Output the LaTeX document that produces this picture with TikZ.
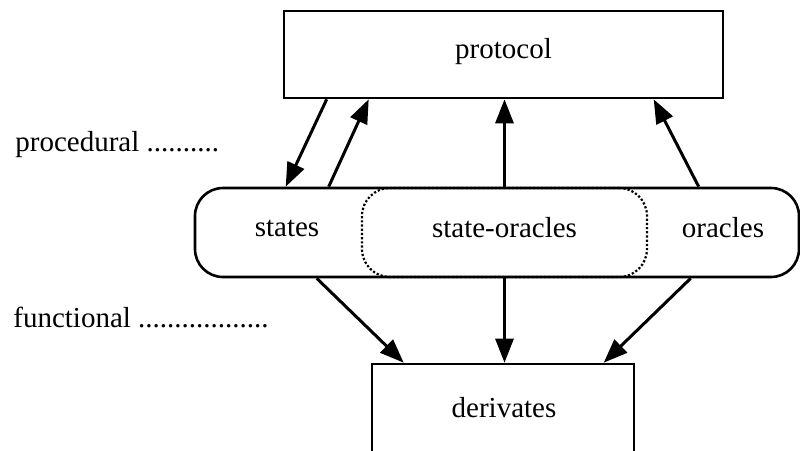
\documentclass[tikz,border=0pt]{standalone}
\usepackage{fontspec}
\setmainfont{Liberation Serif}
\usepackage{tikz}
\usetikzlibrary{arrows.meta, positioning, calc}
\tikzset{
  >={Triangle[length=12pt,width=9pt]},  % punte piene
  % riquadri
  box/.style={draw,line width=1.3pt,rectangle,inner sep=0pt},
  band/.style={box,rounded corners=14pt},
  overlap/.style={draw,densely dotted,line width=1.1pt,rounded corners=14pt,inner sep=0pt},
  word/.style={inner sep=0pt},
  % connessioni
  link/.style={->,line width=1.5pt}
}

\begin{document}
\begin{tikzpicture}[x=0.5pt,y=-0.5pt,font=\fontsize{14.5}{17}\selectfont]
    \useasboundingbox (0,0) rectangle (800,451);
    \clip (0,0) rectangle (800,451);
    % livelli
    \node[box,minimum width=219.5pt,minimum height=43.5pt] (protocol) at (503.5,54.5) {};
    \node[word] (prottext) at (503.5,52) {protocol};
    \node[overlap,minimum width=142.5pt,minimum height=44.5pt] (so) at (504.5,232.5) {};
    \node[band,minimum width=302pt,minimum height=44.5pt] (band) at (497,232.5) {};
    \node[word] (states) at (287,228) {states};
    \node[word] (sotext) at (504.5,228) {state-oracles};
    \node[word] (oracles) at (723,228) {oracles};
    \node[box,minimum width=131pt,minimum height=48pt] (derivates) at (503,412) {};
    \node[word] (dertext) at (504,408) {derivates};
    % etichette a sinistra
    \node[word,anchor=west] (proc) at (15,145) {procedural ..........};
    \node[word,anchor=west] (func) at (13,317) {functional ..................};
    % procedurale
    \draw[link] ($(protocol.south west)+(44,0)$) -- ($(band.north west)+(92,0)$);
    \draw[link] ($(band.north west)+(135,0)$) -- ($(protocol.south west)+(86,0)$);
    \draw[link] (so.north) -- (so.north |- protocol.south);
    \draw[link] ($(band.north west)+(505,0)$) -- ($(protocol.south west)+(371,0)$);
    % funzionale
    \draw[link] ($(band.south west)+(123,0)$) -- ($(derivates.north west)+(33,0)$);
    \draw[link] (so.south) -- (so.south |- derivates.north);
    \draw[link] ($(band.south west)+(497,0)$) -- ($(derivates.north west)+(233,0)$);
\end{tikzpicture}
\end{document}
